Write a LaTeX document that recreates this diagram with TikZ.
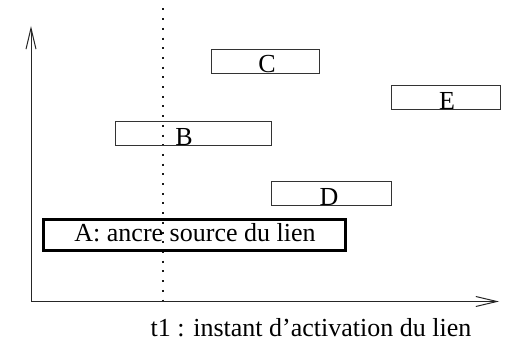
\documentclass[tikz,border=0pt]{standalone}
\usepackage{fontspec}
\setmainfont{Liberation Serif}
\usetikzlibrary{arrows.meta}
\begin{document}
\begin{tikzpicture}[x=1pt,y=-1pt,
  box/.style={draw=black!80,line width=1pt,rectangle,inner sep=0pt,minimum height=24pt},
  boxa/.style={draw=black,line width=3.5pt,rectangle,inner sep=0pt},
  lbl/.style={inner sep=0pt,anchor=base,font=\fontsize{26}{30}\selectfont},
  axis/.style={draw=black!85,line width=1pt,-{Straight Barb[length=21pt,width=10pt,line width=1pt]}},
  dotline/.style={draw=black!90,line width=1.8pt,dash pattern=on 2pt off 7.7pt}]
\useasboundingbox (0,0) rectangle (511,347);
% axes
\coordinate (O) at (31,301.5);
\coordinate (Ytop) at (31,26);
\coordinate (Xend) at (499,301.5);
\draw[axis] (O) -- (Ytop);
\draw[axis] (O) -- (Xend);
% dotted line
\coordinate (Dtop) at (162.7,8.5);
\coordinate (Dbot) at (162.7,300);
\draw[dotline] (Dtop) -- (Dbot);
% boxes
\node[box,minimum width=108pt] (C) at (265,62) {};
\node[lbl] (Ct) at (267,73) {C};
\node[box,minimum width=156pt] (B) at (193,134) {};
\node[lbl] (Bt) at (184,145.5) {B};
\node[box,minimum width=109pt] (E) at (445.5,98) {};
\node[lbl] (Et) at (447,110) {E};
\node[box,minimum width=120pt] (D) at (331,194) {};
\node[lbl] (Dt) at (329,205.5) {D};
\node[boxa,minimum width=302pt,minimum height=31pt] (A) at (194.5,235) {};
\node[lbl] (At) at (195,241.7) {A: ancre source du lien};
% axis label
\node[lbl] (T) at (311,336.7) {t1 : instant d’activation du lien};
\end{tikzpicture}
\end{document}
